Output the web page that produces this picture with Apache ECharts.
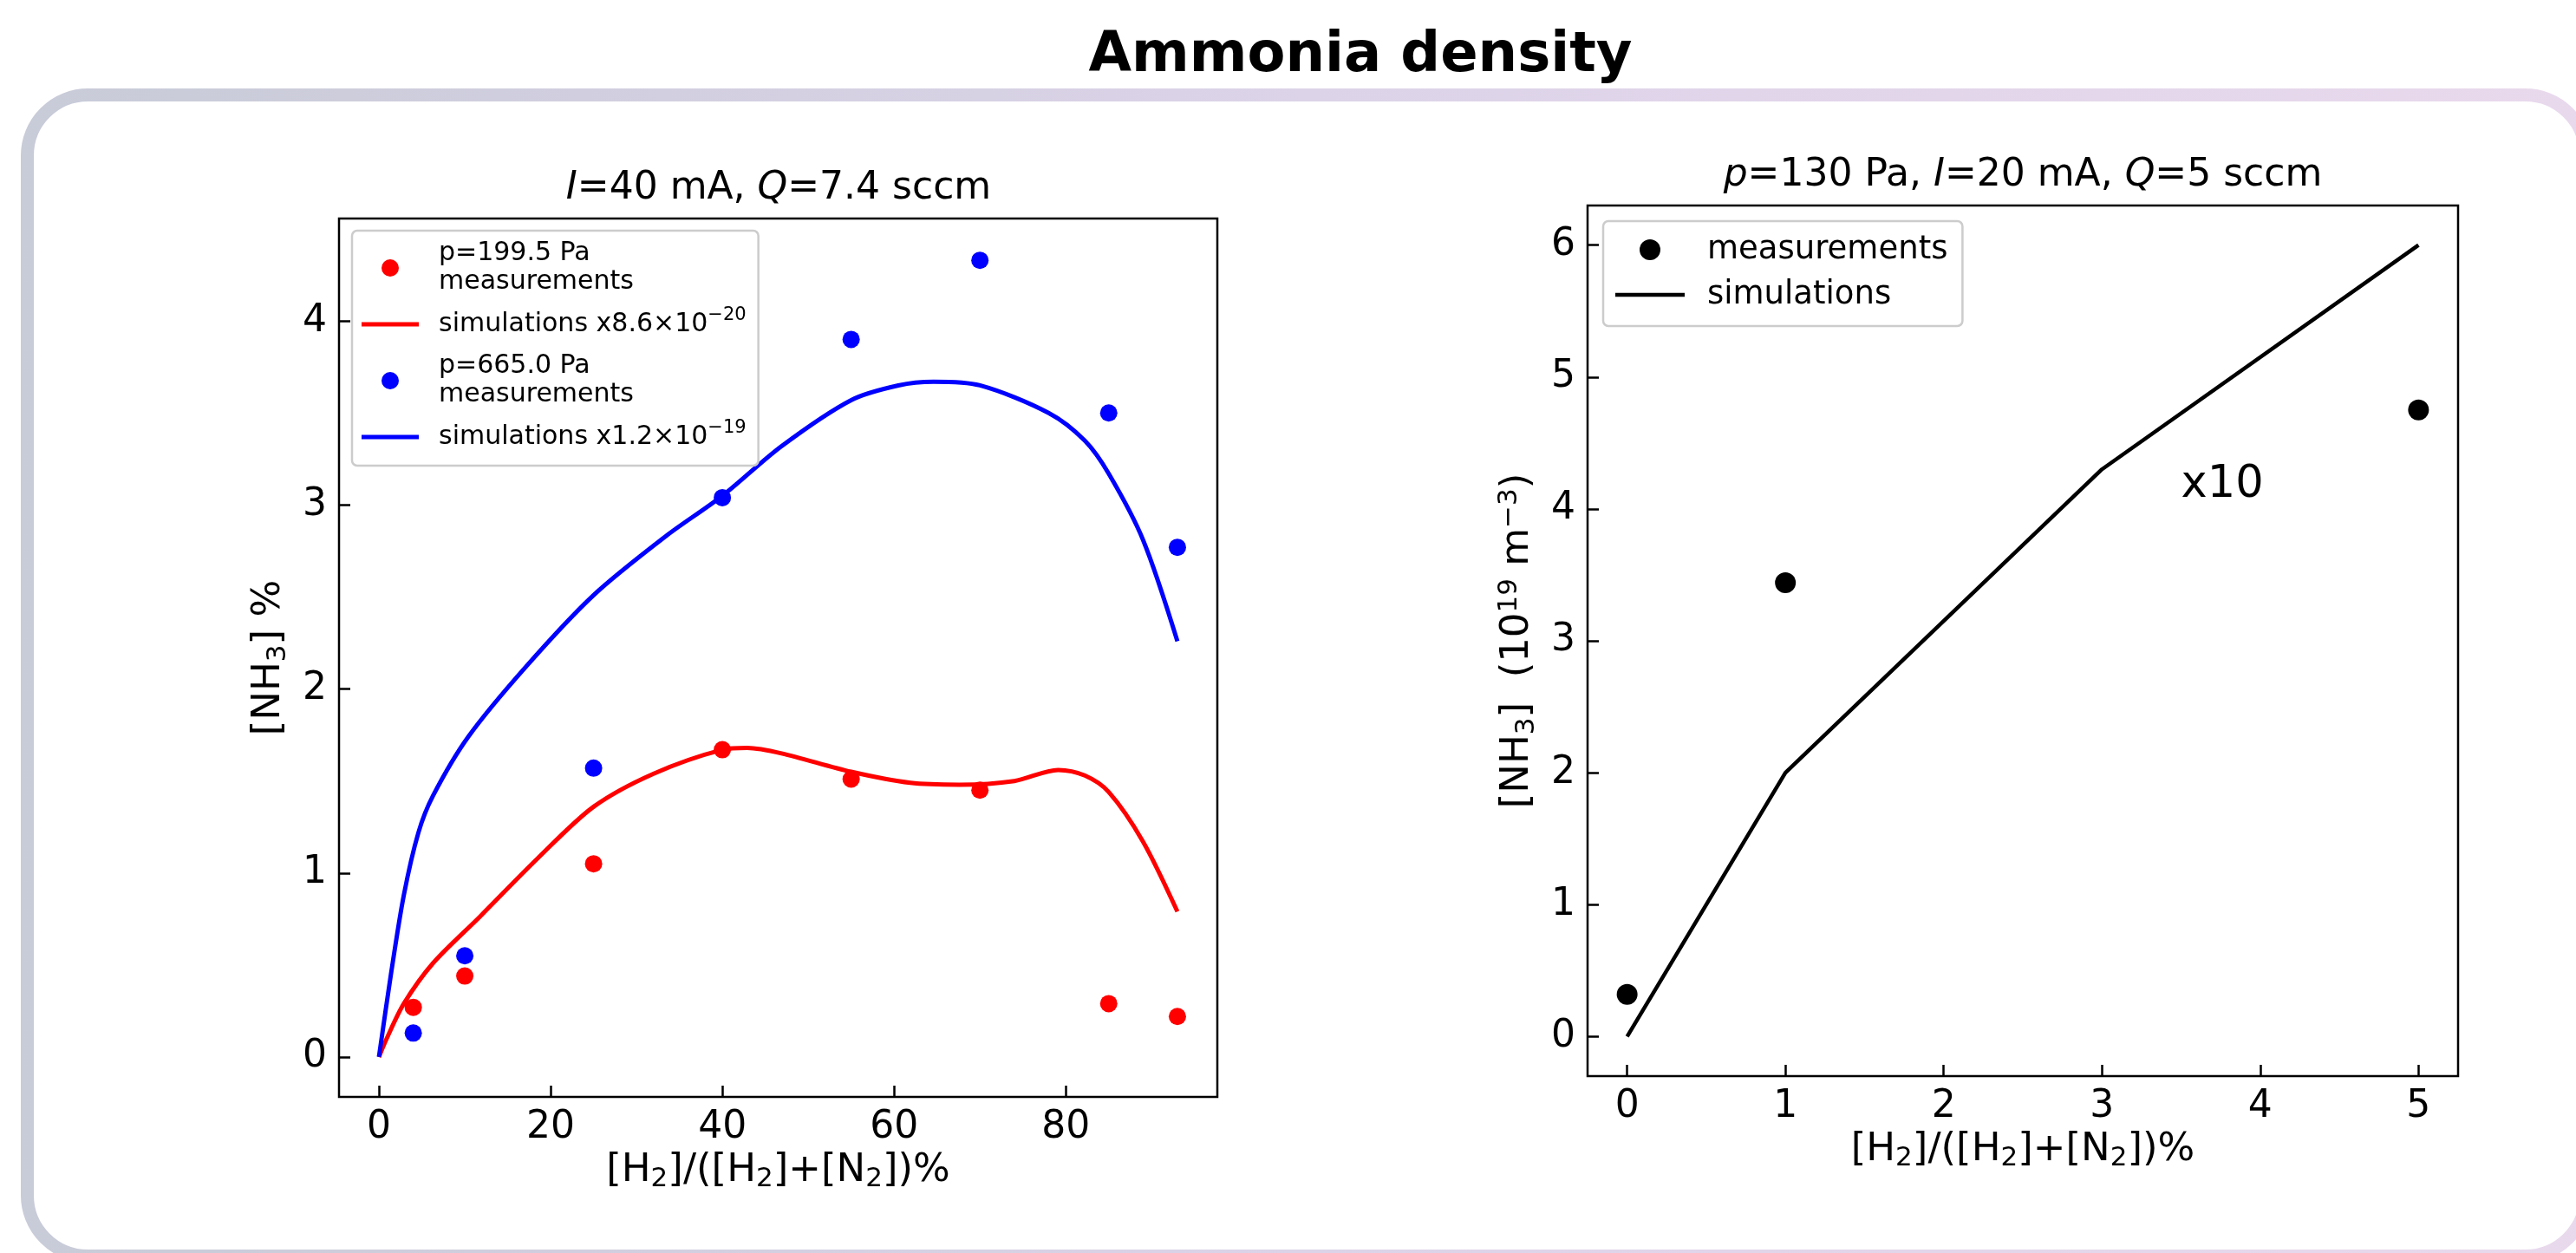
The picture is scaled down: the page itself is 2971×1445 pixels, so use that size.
<!DOCTYPE html>
<html>
<head>
<meta charset="utf-8">
<title>Ammonia density</title>
<script src="https://cdn.jsdelivr.net/npm/echarts@6/dist/echarts.min.js"></script>
<style>
    html, body { margin: 0; padding: 0; background: #fff; }
    #main { width: 2971px; height: 1445px; }
</style>
</head>
<body>
<div id="main"></div>
<script>
// left panel: I=40 mA, Q=7.4 sccm
var h2Pct = [4, 10, 25, 40, 55, 70, 85, 93];
var measLowP = [0.27, 0.44, 1.05, 1.67, 1.51, 1.45, 0.29, 0.22];
var measHighP = [0.13, 0.55, 1.57, 3.04, 3.90, 4.33, 3.50, 2.77];
var simLowX = [0, 0.9, 2.9, 6.3, 11.7, 18.5, 25, 32, 40, 42.9, 46.9, 55, 61.9, 67.6, 74, 79.1, 82.2, 85, 89, 93];
var simLowP = [0, 0.10, 0.29, 0.51, 0.76, 1.08, 1.36, 1.54, 1.67, 1.68, 1.65, 1.55, 1.49, 1.48, 1.50, 1.56, 1.53, 1.44, 1.17, 0.79];
var simHighX = [0, 1.4, 2.9, 4.6, 6.3, 10.4, 17.1, 25, 33.4, 40, 46.9, 55, 60.5, 64.6, 70, 78, 82.2, 85, 89, 93];
var simHighP = [0, 0.45, 0.88, 1.22, 1.42, 1.74, 2.12, 2.51, 2.83, 3.05, 3.32, 3.57, 3.65, 3.67, 3.65, 3.50, 3.35, 3.17, 2.81, 2.26];

// right panel: p=130 Pa, I=20 mA, Q=5 sccm
var h2PctR = [0, 1, 5];
var measR = [0.32, 3.44, 4.75];
var simRX = [0, 1, 3, 5];
var simR = [0, 2, 4.3, 6];
var noteX10 = [3.5, 4.1];

// tick labels
var ticksXL = [0, 20, 40, 60, 80];
var ticksYL = [0, 1, 2, 3, 4];
var ticksXR = [0, 1, 2, 3, 4, 5];
var ticksYR = [0, 1, 2, 3, 4, 5, 6];

// legend names and their displayed text
var nameLow = 'p=199.5 Pa measurements';
var nameLowSim = 'simulations x8.6e-20';
var nameHigh = 'p=665.0 Pa measurements';
var nameHighSim = 'simulations x1.2e-19';
var legendText = {};
legendText[nameLow] = 'p=199.5 Pa\nmeasurements';
legendText[nameLowSim] = 'simulations x8.6×10{sup|−20}';
legendText[nameHigh] = 'p=665.0 Pa\nmeasurements';
legendText[nameHighSim] = 'simulations x1.2×10{sup|−19}';

var FONT = 'DejaVu Sans';

function pairs(xs, ys) {
    var out = [];
    for (var i = 0; i < xs.length; i++) {
        out.push([xs[i], ys[i]]);
    }
    return out;
}

function makeAxis(gridIndex, min, max, ticks, name, gap) {
    return {
        type: 'value',
        gridIndex: gridIndex,
        min: min,
        max: max,
        splitLine: { show: false },
        axisLine: { show: false, onZero: false },
        axisTick: {
            show: true, inside: true, length: 13, customValues: ticks,
            lineStyle: { color: '#000', width: 2.5 }
        },
        axisLabel: {
            show: true, margin: 14, color: '#000', fontSize: 44,
            fontFamily: FONT, customValues: ticks
        },
        name: name,
        nameLocation: 'middle',
        nameGap: gap,
        nameTextStyle: {
            color: '#000', fontSize: 45, fontFamily: FONT,
            rich: {
                sub: { color: '#000', fontSize: 31, fontFamily: FONT, padding: [20, 0, 0, 0] },
                sup: { color: '#000', fontSize: 31, fontFamily: FONT, padding: [0, 0, 20, 0] }
            }
        }
    };
}

var chart = echarts.init(document.getElementById('main'));

var titleRich = { it: { fontFamily: FONT, fontSize: 44, fontStyle: 'italic', color: '#000' } };

var option = {
    backgroundColor: '#fff',
    animation: false,
    graphic: [{
        type: 'rect',
        z: -10,
        silent: true,
        shape: { x: 31.5, y: 109.5, width: 2951, height: 1339, r: 70 },
        style: {
            fill: '#fff',
            lineWidth: 15,
            stroke: {
                type: 'linear', x: 0, y: 0, x2: 1, y2: 0,
                colorStops: [
                    { offset: 0, color: '#c8cbd8' },
                    { offset: 0.5, color: '#dcd3e8' },
                    { offset: 1, color: '#e9d9ed' }
                ]
            }
        }
    }],
    title: [{
        text: 'Ammonia density',
        left: 1569, top: 33, textAlign: 'center', padding: 0,
        textStyle: { fontFamily: FONT, fontSize: 64, fontWeight: 'bold', color: '#000', lineHeight: 64 }
    }, {
        text: '{it|I}=40 mA, {it|Q}=7.4 sccm',
        left: 898, top: 196, textAlign: 'center', padding: 0,
        textStyle: { fontFamily: FONT, fontSize: 44, fontWeight: 'normal', color: '#000', lineHeight: 44, rich: titleRich }
    }, {
        text: '{it|p}=130 Pa, {it|I}=20 mA, {it|Q}=5 sccm',
        left: 2333, top: 181, textAlign: 'center', padding: 0,
        textStyle: { fontFamily: FONT, fontSize: 44, fontWeight: 'normal', color: '#000', lineHeight: 44, rich: titleRich }
    }],
    legend: [{
        orient: 'vertical',
        left: 406, top: 266,
        data: [
            { name: nameLow, icon: 'circle' },
            { name: nameLowSim, icon: 'path://M0,0H66V5H0Z' },
            { name: nameHigh, icon: 'circle' },
            { name: nameHighSim, icon: 'path://M0,0H66V5H0Z' }
        ],
        formatter: function (name) {
            return legendText[name] || name;
        },
        selectedMode: false,
        itemWidth: 66, itemHeight: 20, itemGap: 11,
        padding: [10, 14, 12, 11],
        backgroundColor: '#fff', borderColor: '#cccccc', borderWidth: 2.5, borderRadius: 6,
        textStyle: {
            fontFamily: FONT, fontSize: 30, color: '#000', lineHeight: 33, padding: [0, 0, 0, 18],
            rich: { sup: { fontFamily: FONT, fontSize: 21, color: '#000', lineHeight: 21, padding: [0, 0, 21, 0] } }
        }
    }, {
        orient: 'vertical',
        left: 1849, top: 255,
        data: [
            { name: 'measurements', icon: 'circle' },
            { name: 'simulations', icon: 'path://M0,0H80V4.5H0Z' }
        ],
        selectedMode: false,
        itemWidth: 80, itemHeight: 24, itemGap: 12,
        padding: [13, 17, 16, 14],
        backgroundColor: '#fff', borderColor: '#cccccc', borderWidth: 2.5, borderRadius: 6,
        textStyle: { fontFamily: FONT, fontSize: 37, color: '#000', lineHeight: 40, padding: [0, 0, 0, 21] }
    }],
    grid: [
        { left: 391, top: 252, width: 1013, height: 1013, show: true, borderColor: '#000', borderWidth: 2.5, backgroundColor: 'transparent', outerBoundsMode: 'none' },
        { left: 1831, top: 237, width: 1004, height: 1004, show: true, borderColor: '#000', borderWidth: 2.5, backgroundColor: 'transparent', outerBoundsMode: 'none' }
    ],
    xAxis: [
        makeAxis(0, -4.65, 97.65, ticksXL, '[H{sub|2}]/([H{sub|2}]+[N{sub|2}])%', 59),
        makeAxis(1, -0.25, 5.25, ticksXR, '[H{sub|2}]/([H{sub|2}]+[N{sub|2}])%', 59)
    ],
    yAxis: [
        makeAxis(0, -0.217, 4.557, ticksYL, '[NH{sub|3}] %', 55),
        makeAxis(1, -0.3, 6.3, ticksYR, '[NH{sub|3}]  (10{sup|19} m{sup|−3})', 55)
    ],
    series: [{
        name: nameLow, type: 'scatter', xAxisIndex: 0, yAxisIndex: 0,
        data: pairs(h2Pct, measLowP), symbol: 'circle', symbolSize: 20,
        itemStyle: { color: '#ff0000', opacity: 1 }
    }, {
        name: nameLowSim, type: 'line', xAxisIndex: 0, yAxisIndex: 0,
        data: pairs(simLowX, simLowP), symbol: 'none', smooth: 0.3,
        lineStyle: { color: '#ff0000', width: 5 }, itemStyle: { color: '#ff0000' }
    }, {
        name: nameHigh, type: 'scatter', xAxisIndex: 0, yAxisIndex: 0,
        data: pairs(h2Pct, measHighP), symbol: 'circle', symbolSize: 20,
        itemStyle: { color: '#0000ff', opacity: 1 }
    }, {
        name: nameHighSim, type: 'line', xAxisIndex: 0, yAxisIndex: 0,
        data: pairs(simHighX, simHighP), symbol: 'none', smooth: 0.3,
        lineStyle: { color: '#0000ff', width: 5 }, itemStyle: { color: '#0000ff' }
    }, {
        name: 'measurements', type: 'scatter', xAxisIndex: 1, yAxisIndex: 1,
        data: pairs(h2PctR, measR), symbol: 'circle', symbolSize: 24,
        itemStyle: { color: '#000', opacity: 1 }
    }, {
        name: 'simulations', type: 'line', xAxisIndex: 1, yAxisIndex: 1,
        data: pairs(simRX, simR), symbol: 'none',
        lineStyle: { color: '#000', width: 4.5 }, itemStyle: { color: '#000' }
    }, {
        // "x10" note, placed in data coordinates
        name: 'note', type: 'scatter', xAxisIndex: 1, yAxisIndex: 1,
        data: [noteX10], symbolSize: 0, silent: true, legendHoverLink: false,
        itemStyle: { color: '#000', opacity: 1 },
        label: {
            show: true, formatter: 'x10', position: [0, 0], align: 'left', verticalAlign: 'bottom',
            offset: [0, 14], fontFamily: FONT, fontSize: 51, color: '#000', opacity: 1, lineHeight: 51
        }
    }]
};

chart.setOption(option);
</script>
</body>
</html>
